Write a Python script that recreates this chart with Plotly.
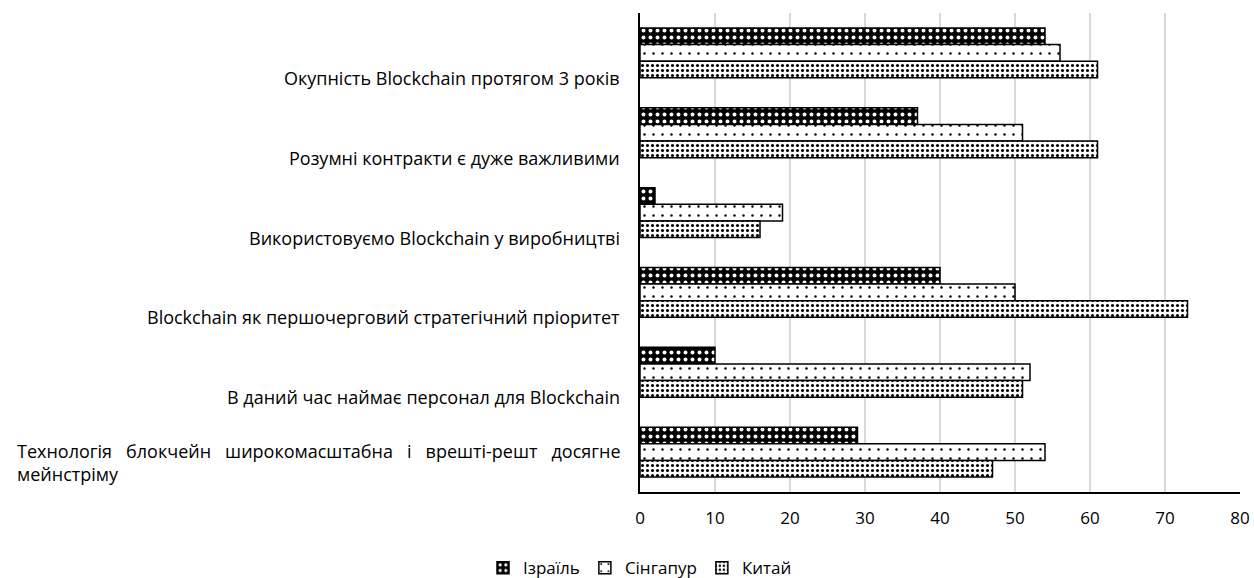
import plotly.graph_objects as go

categories = [
    "Окупність Blockchain протягом 3 років",
    "Розумні контракти є дуже важливими",
    "Використовуємо Blockchain у виробництві",
    "Blockchain як першочерговий стратегічний пріоритет",
    "В даний час наймає персонал для Blockchain",
    "Технологія блокчейн широкомасштабна і врешті-решт досягне<br>мейнстріму",
]
israel = [54, 37, 2, 40, 10, 29]
singapore = [56, 51, 19, 50, 52, 54]
china = [61, 61, 16, 73, 51, 47]
series_names = ["Ізраїль", "Сінгапур", "Китай"]
x_ticks = [0, 10, 20, 30, 40, 50, 60, 70, 80]

FONT = "'Open Sans', sans-serif"

patterns = [
    dict(shape=".", bgcolor="black", fgcolor="white", size=7, solidity=0.25, fillmode="replace"),
    dict(shape=".", bgcolor="white", fgcolor="black", size=9, solidity=0.06, fillmode="replace"),
    dict(shape=".", bgcolor="white", fgcolor="black", size=5, solidity=0.3, fillmode="replace"),
]

fig = go.Figure()
for name, vals, pat in zip(series_names, [israel, singapore, china], patterns):
    fig.add_trace(go.Bar(
        y=categories, x=vals, name=name, orientation="h",
        marker=dict(color="white", pattern=pat, line=dict(color="black", width=1.5)),
    ))

for cat in categories:
    multi = "<br>" in cat
    text = cat.replace(" ", "\u00a0\u00a0\u00a0") if multi else cat
    fig.add_annotation(
        xref="paper", yref="y", x=0, y=cat, text=text, showarrow=False,
        xanchor="right", yanchor="middle", xshift=-18, yshift=-10 if multi else -25,
        align="left", font=dict(family=FONT, size=18, color="#000"),
    )

fig.update_layout(
    width=1254, height=578,
    margin=dict(l=640, r=14, t=13, b=86, autoexpand=False),
    paper_bgcolor="white", plot_bgcolor="white",
    barmode="group", bargap=0.375, bargroupgap=0,
    font=dict(family=FONT, size=18, color="#000"),
    showlegend=True,
    legend=dict(orientation="h", x=0.0, xanchor="center", y=-0.159, yanchor="middle",
                font=dict(family=FONT, size=17), itemwidth=30, traceorder="normal"),
)
fig.update_xaxes(range=[0, 80], tickvals=x_ticks, showgrid=True, gridcolor="#d9d9d9", gridwidth=2,
                 showline=True, linecolor="black", linewidth=2, zeroline=False,
                 ticks="", ticklabelstandoff=10, tickfont=dict(family=FONT, size=17))
fig.update_yaxes(autorange="reversed", showticklabels=False, showline=True, linecolor="black",
                 linewidth=2, ticks="", showgrid=False)

fig.write_html("out.html", config={"displayModeBar": False},
               post_script="document.body.style.margin='0';document.body.style.overflow='hidden';")
